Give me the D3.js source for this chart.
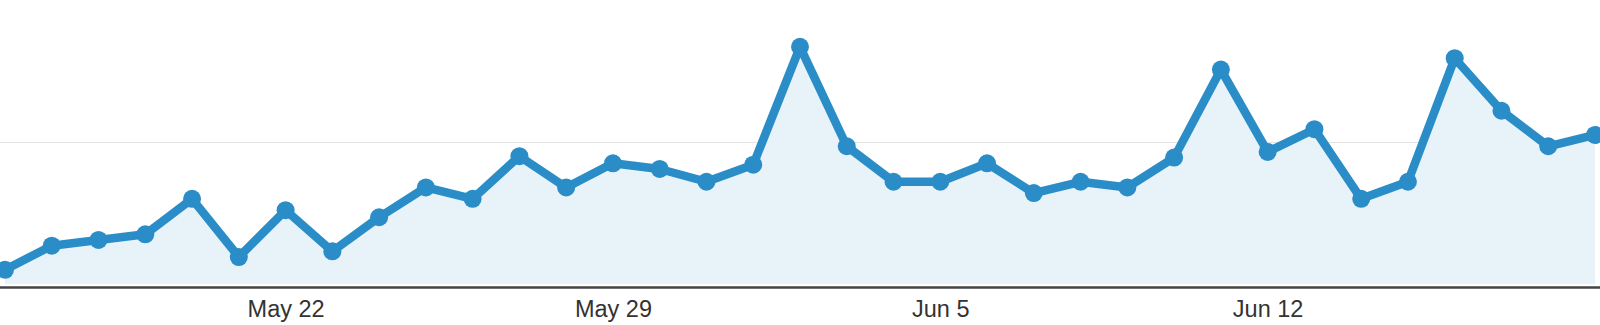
<!DOCTYPE html>
<html>
<head>
<meta charset="utf-8">
<script src="https://cdn.jsdelivr.net/npm/d3@7"></script>
<style>
  html, body { margin: 0; padding: 0; background: #fff; overflow: hidden; }
  svg { display: block; }
</style>
</head>
<body>
<svg id="chart" width="1600" height="325"></svg>
<script>
// ---- data ----
const startDate = "2011-05-16";
const endDate = "2011-06-19";
const visits = [10, 27, 31, 35, 60, 19, 52, 23, 47, 68, 60, 90, 68, 85, 81, 72, 84, 167, 97, 72,
                72, 85, 64, 72, 68, 89, 151, 93, 109, 60, 72, 159, 122, 97, 105];
const tickDates = ["2011-05-22", "2011-05-29", "2011-06-05", "2011-06-12"];
const gridValues = [100];
const yMax = 200;

// ---- build ----
const parse = d3.timeParse("%Y-%m-%d");
const fmt = d3.timeFormat("%b %-d");
const start = parse(startDate);
const data = visits.map((v, i) => ({ date: d3.timeDay.offset(start, i), value: v }));

const svg = d3.select("#chart");
const x = d3.scaleTime().domain([start, parse(endDate)]).range([5, 1595]);
const y = d3.scaleLinear().domain([0, yMax]).range([284, 0]);

// grid line
svg.append("g").selectAll("line").data(gridValues).join("line")
  .attr("x1", 0).attr("x2", 1600)
  .attr("y1", d => y(d) + 0.5).attr("y2", d => y(d) + 0.5)
  .attr("stroke", "#e4e4e4").attr("stroke-width", 1);

// area
svg.append("path").datum(data)
  .attr("fill", "#e8f2f9")
  .attr("d", d3.area().x(d => x(d.date)).y0(y(0)).y1(d => y(d.value)));

// x axis
const axis = d3.axisBottom(x)
  .tickValues(tickDates.map(parse))
  .tickFormat(fmt)
  .tickSize(0)
  .tickPadding(13);
const gx = svg.append("g").attr("transform", "translate(0,287.5)").call(axis);
gx.select(".domain").remove();
svg.append("line").attr("x1", 0).attr("x2", 1600).attr("y1", 287.5).attr("y2", 287.5)
  .attr("stroke", "#444").attr("stroke-width", 2.5);
gx.selectAll("text")
  .attr("font-family", "'Liberation Sans', Arial, Helvetica, sans-serif")
  .attr("font-size", 23.5)
  .attr("fill", "#333");

// line
svg.append("path").datum(data)
  .attr("fill", "none")
  .attr("stroke", "#2a8dc7")
  .attr("stroke-width", 8.5)
  .attr("stroke-linejoin", "round")
  .attr("d", d3.line().x(d => x(d.date)).y(d => y(d.value)));

// points
svg.append("g").selectAll("circle").data(data).join("circle")
  .attr("cx", d => x(d.date)).attr("cy", d => y(d.value))
  .attr("r", 9).attr("fill", "#2a8dc7");
</script>
</body>
</html>
